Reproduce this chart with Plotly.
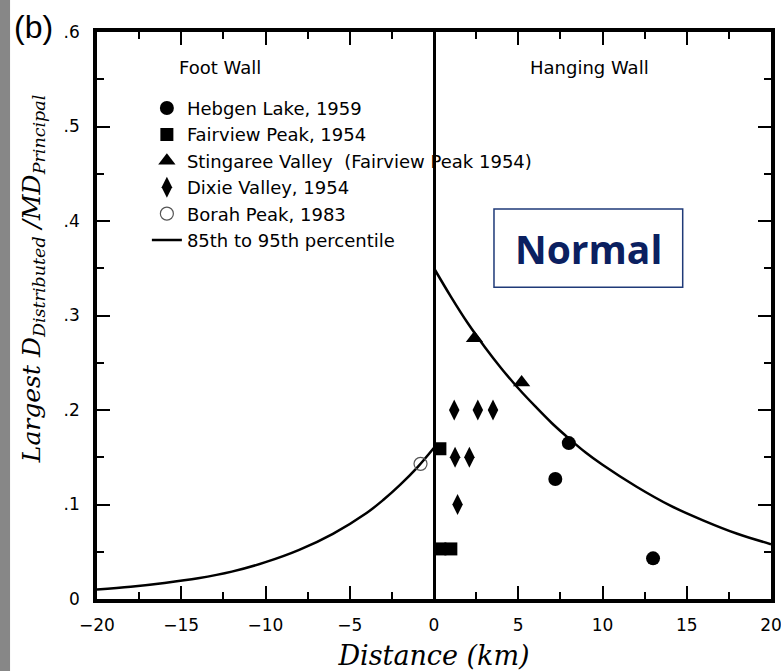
import plotly.graph_objects as go

# ---- data ----
hebgen_x = [8.0, 7.2, 13.0]
hebgen_y = [0.165, 0.127, 0.043]

fairview_x = [0.35, 0.35, 1.0]
fairview_y = [0.159, 0.053, 0.053]

stingaree_x = [2.4, 5.2]
stingaree_y = [0.276, 0.229]

dixie_x = [1.2, 2.6, 3.5, 1.25, 2.1, 1.4]
dixie_y = [0.200, 0.200, 0.200, 0.150, 0.150, 0.100]

borah_x = [-0.8]
borah_y = [0.143]

# 85th-95th percentile curve
foot_x = [-20, -18, -16, -14, -12, -10, -8, -6, -4, -3, -2, -1, 0]
foot_y = [0.010, 0.013, 0.017, 0.022, 0.029, 0.039, 0.052, 0.069, 0.091, 0.105, 0.121, 0.139, 0.160]
hang_x = [0, 1, 2, 3, 4, 5, 6, 7, 8, 9, 10, 12, 14, 16, 18, 20]
hang_y = [0.350, 0.320, 0.292, 0.267, 0.244, 0.223, 0.204, 0.186, 0.170, 0.155, 0.142,
          0.119, 0.099, 0.083, 0.069, 0.058]

x_tickvals = [-20, -15, -10, -5, 0, 5, 10, 15, 20]
x_ticktext = ["\u221220", "\u221215", "\u221210", "\u22125", "0", "5", "10", "15", "20"]
y_tickvals = [0, 0.1, 0.2, 0.3, 0.4, 0.5, 0.6]
y_ticktext = ["0", ".1", ".2", ".3", ".4", ".5", ".6"]

fig = go.Figure()

curve_x = foot_x + [None] + hang_x
curve_y = foot_y + [None] + hang_y
fig.add_trace(go.Scatter(x=curve_x, y=curve_y, mode="lines", name="85th to 95th percentile",
                         line=dict(color="black", width=2.5, shape="spline"), legendrank=1006,
                         connectgaps=False))

fig.add_trace(go.Scatter(x=hebgen_x, y=hebgen_y, mode="markers", name="Hebgen Lake, 1959",
                         marker=dict(symbol="circle", size=14, color="black"), legendrank=1000))
fig.add_trace(go.Scatter(x=fairview_x, y=fairview_y, mode="markers", name="Fairview Peak, 1954",
                         marker=dict(symbol="square", size=13, color="black"), legendrank=1001))
fig.add_trace(go.Scatter(x=stingaree_x, y=stingaree_y, mode="markers",
                         name="Stingaree Valley\u00a0\u00a0(Fairview Peak 1954)",
                         marker=dict(symbol="triangle-up", size=15, color="black"), legendrank=1002))
fig.add_trace(go.Scatter(x=dixie_x, y=dixie_y, mode="markers", name="Dixie Valley, 1954",
                         marker=dict(symbol="diamond-tall", size=15, color="black"), legendrank=1003))
fig.add_trace(go.Scatter(x=borah_x, y=borah_y, mode="markers", name="Borah Peak, 1983",
                         marker=dict(symbol="circle-open", size=13, color="#555555",
                                     line=dict(width=1.2, color="#555555")), legendrank=1004))

axis_common = dict(showline=True, linecolor="black", linewidth=3.5, mirror="ticks",
                   ticks="inside", ticklen=13, tickwidth=1.5, tickcolor="black",
                   showgrid=False, automargin=False, ticklabeloverflow="allow",
                   tickfont=dict(family="DejaVu Sans", size=17, color="black"))

fig.update_xaxes(range=[-20, 20], tickvals=x_tickvals, ticktext=x_ticktext,
                 zeroline=True, zerolinecolor="black", zerolinewidth=3,
                 minor=dict(ticks="inside", ticklen=7, dtick=2.5, tickwidth=1.5, tickcolor="black"),
                 ticklabelstandoff=8,
                 title=dict(text="Distance (km)", standoff=17,
                            font=dict(family="DejaVu Serif", size=27, style="italic", color="black")),
                 **axis_common)
fig.update_yaxes(range=[0, 0.6], tickvals=y_tickvals, ticktext=y_ticktext, zeroline=False,
                 minor=dict(ticks="inside", ticklen=7, dtick=0.05, tickwidth=1.5, tickcolor="black"),
                 ticklabelstandoff=10,
                 **axis_common)

fig.update_layout(
    width=781, height=671,
    margin=dict(l=97, r=10, t=32, b=72, autoexpand=False),
    paper_bgcolor="white", plot_bgcolor="white",
    showlegend=True,
    legend=dict(x=0.074, y=0.898, xanchor="left", yanchor="top",
                bgcolor="rgba(0,0,0,0)", borderwidth=0,
                font=dict(family="DejaVu Sans", size=18, color="black"),
                itemwidth=30),
    shapes=[
        dict(type="rect", xref="paper", yref="paper", x0=-0.1439, x1=-0.129, y0=-0.13, y1=1.06,
             fillcolor="#878787", line=dict(width=0), layer="above"),
        dict(type="rect", xref="paper", yref="paper", x0=0.589, x1=0.869, y0=0.550, y1=0.688,
             fillcolor="white", line=dict(color="#1f3a78", width=1.5), layer="above"),
    ],
    annotations=[
        dict(text="<i>Largest D</i><sub><i>Distributed</i></sub> <i>/MD</i><sub><i>Principal</i></sub>",
             xref="paper", yref="paper", x=-0.095, y=0.564, textangle=-90, showarrow=False,
             xanchor="center", yanchor="middle",
             font=dict(family="DejaVu Serif", size=25, color="black")),
        dict(text="Foot Wall", xref="paper", yref="paper", x=0.1825, y=0.938, showarrow=False,
             xanchor="center", yanchor="middle",
             font=dict(family="DejaVu Sans", size=18, color="black")),
        dict(text="Hanging Wall", xref="paper", yref="paper", x=0.730, y=0.938, showarrow=False,
             xanchor="center", yanchor="middle",
             font=dict(family="DejaVu Sans", size=18, color="black")),
        dict(text="<b>Normal</b>", xref="paper", yref="paper", x=0.7285, y=0.619, showarrow=False,
             xanchor="center", yanchor="middle",
             font=dict(family="Open Sans", size=39, color="#0b2060")),
        dict(text="(b)", xref="paper", yref="paper", x=-0.0935, y=1.009, xanchor="center",
             yanchor="middle", showarrow=False,
             font=dict(family="Liberation Sans", size=32, color="black")),
    ],
)

fig.write_html("out.html", config={"displayModeBar": False},
               post_script="document.body.style.margin='0';")
